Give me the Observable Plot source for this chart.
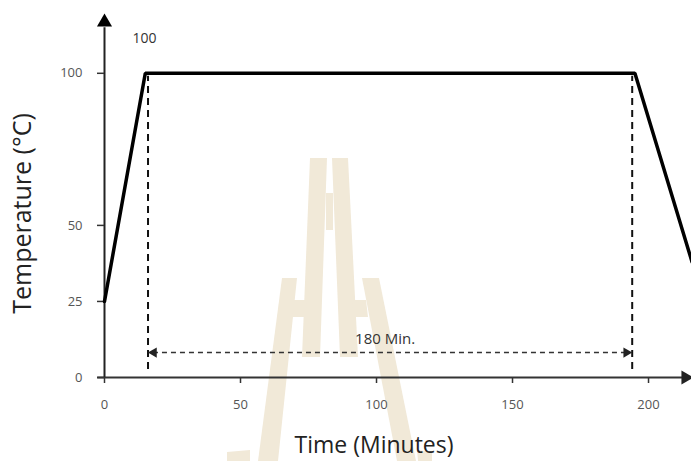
<!DOCTYPE html>
<html><head><meta charset="utf-8">
<script src="https://cdn.jsdelivr.net/npm/d3@7"></script>
<script src="https://cdn.jsdelivr.net/npm/@observablehq/plot@0.6"></script>
<style>
body{margin:0;background:#fff;}
#wrap{position:relative;width:691px;height:461px;overflow:hidden;}
#wm{position:absolute;left:0;top:0;}
#chart{position:absolute;left:0;top:0;}
</style>
</head><body>
<div id="wrap">
<svg id="wm" width="691" height="461">
  <g fill="#f1e9d8">
    <polygon points="310,158 327,158 320,357 302,357"/>
    <polygon points="332,158 348,158 358,357 340,357"/>
    <rect x="326" y="193" width="7" height="37"/>
    <polygon points="282,278 297,278 278,461 258,461"/>
    <polygon points="362,278 379,278 416,461 397,461"/>
    <polygon points="294,300 307,300 306,317 292,317"/>
    <polygon points="352,300 366,300 368,317 353,317"/>
    <polygon points="227,452 250,450 250,461 227,461"/>
    <polygon points="417,450 432,452 432,461 418,461"/>
  </g>
</svg>
<div id="chart"></div>
</div>
<script>
// Temperature profile (Time in minutes, Temperature in °C)
const profileTime = [0, 15, 195, 216];
const profileTemp = [25, 100, 100, 38];
// Hold segment markers
const holdStart = 16;
const holdEnd = 194;
const holdLevel = 8.2;
const holdLabel = "180 Min.";
const peakLabel = "100";
const peakLabelPos = {x: 14.7, y: 111.5};
// Axis ticks
const xTicks = [0, 50, 100, 150, 200];
const yTicks = [0, 25, 50, 100];
const xMax = 215.8, yMax = 119;

const profile = profileTime.map((t, i) => ({t, temp: profileTemp[i]}));

const plot = Plot.plot({
  width: 691,
  height: 461,
  marginLeft: 104,
  marginRight: 0,
  marginTop: 15,
  marginBottom: 84,
  style: {background: "transparent", fontFamily: "Open Sans", overflow: "visible"},
  x: {domain: [0, xMax]},
  y: {domain: [0, yMax]},
  marks: [
    // axes lines
    Plot.ruleY([0], {x1: -2.5, x2: xMax, stroke: "#333", strokeWidth: 2}),
    Plot.ruleX([0], {y1: 0, y2: 115, stroke: "#222", strokeWidth: 2}),
    Plot.dot([{x: 0, y: 116.8}], {x: "x", y: "y", symbol: "triangle", r: 5.6, fill: "#000", stroke: null}),
    Plot.dot([{x: xMax, y: 0}], {x: "x", y: "y", dx: -6, symbol: "triangle", r: 5.2, rotate: 90, fill: "#222", stroke: null}),
    Plot.axisX({ticks: xTicks, tickSize: 6, tickPadding: 16, fontSize: 13, fill: "#555", stroke: "#333", strokeWidth: 1.5, label: null, tickFormat: d => String(d)}),
    Plot.axisY({ticks: yTicks, tickSize: 7, tickPadding: 15, fontSize: 13, fill: "#555", stroke: "#333", strokeWidth: 1.5, label: null, tickFormat: d => String(d)}),
    // dashed verticals
    Plot.ruleX([holdStart, holdEnd], {y1: 2.6, y2: 99, stroke: "#111", strokeWidth: 2, strokeDasharray: "7,5"}),
    // dashed horizontal double arrow
    Plot.ruleY([holdLevel], {x1: holdStart + 2, x2: holdEnd - 2, stroke: "#333", strokeWidth: 1.5, strokeDasharray: "5,4"}),
    Plot.dot([{x: holdStart, y: holdLevel}], {x: "x", y: "y", dx: 5.8, symbol: "triangle", r: 3.8, rotate: -90, fill: "#222", stroke: null}),
    Plot.dot([{x: holdEnd, y: holdLevel}], {x: "x", y: "y", dx: -5.8, symbol: "triangle", r: 3.8, rotate: 90, fill: "#222", stroke: null}),
    Plot.text([holdLabel], {x: (holdStart + holdEnd) / 2, y: holdLevel, dx: -5, dy: -13, fontSize: 15, fill: "#333", fontFamily: "Open Sans"}),
    // profile line
    Plot.line(profile, {x: "t", y: "temp", stroke: "#000", strokeWidth: 3.5, strokeLinejoin: "miter"}),
    Plot.text([peakLabel], {x: peakLabelPos.x, y: peakLabelPos.y, fontSize: 14, fill: "#333", fontFamily: "Open Sans"}),
    // axis titles
    Plot.text(["Time (Minutes)"], {frameAnchor: "bottom", textAnchor: "middle", lineAnchor: "middle", dx: -24, dy: 68, fontSize: 23, fill: "#222", fontFamily: "Open Sans"}),
    Plot.text(["Temperature (°C)"], {frameAnchor: "left", textAnchor: "middle", lineAnchor: "middle", rotate: -90, dx: -81.5, dy: 17, fontSize: 25, fill: "#222", fontFamily: "Open Sans"})
  ]
});
document.getElementById("chart").appendChild(plot);
</script>
</body></html>
